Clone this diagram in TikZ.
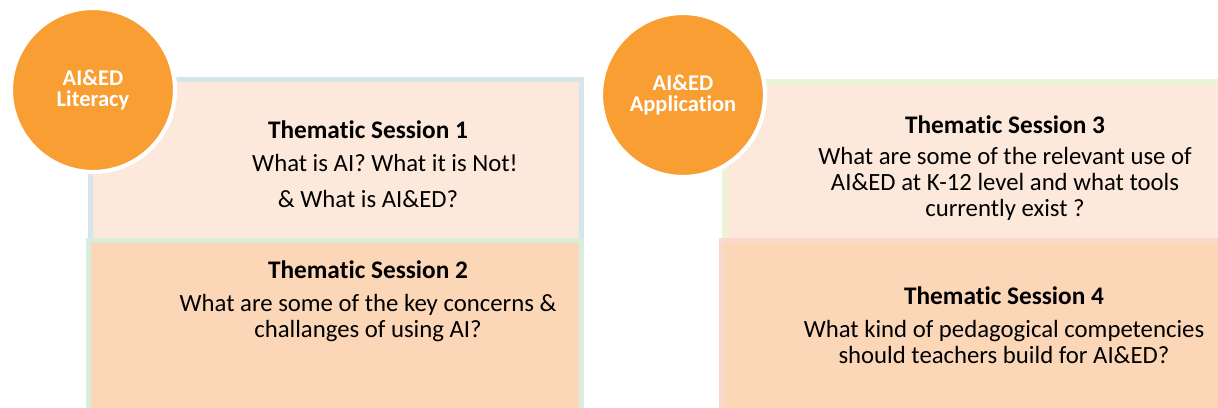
\documentclass[tikz,border=0pt]{standalone}
\usepackage{fontspec}
\setmainfont{Carlito}[Ligatures=NoCommon]
\usetikzlibrary{positioning,calc}
\definecolor{badgeorange}{HTML}{F99E33}
\definecolor{paleblue}{HTML}{D6E4EC}
\definecolor{palegreen}{HTML}{D7EEDC}
\definecolor{palelime}{HTML}{E9F5D7}
\definecolor{palepink}{HTML}{F8D9CC}
\definecolor{lightpeach}{HTML}{FDE9DB}
\definecolor{peach}{HTML}{FBD6B7}

\begin{document}
\begin{tikzpicture}[x=0.025cm,y=-0.025cm,
    panel/.style={rectangle, draw, line width=3.5pt, inner sep=0pt},
    badge/.style={circle, fill=badgeorange, draw=white, line width=3pt, minimum size=4.1cm,
        text=white, align=center, font=\fontsize{16}{15.5}\selectfont\bfseries},
    title/.style={font=\fontsize{18}{19}\selectfont\bfseries},
    body/.style={align=center, font=\fontsize{17.6}{18.6}\selectfont}]
    \useasboundingbox (0,0) rectangle (1218,408);

    % Left panel: Literacy
    \node[panel, draw=paleblue, fill=lightpeach, minimum width=12.28cm, minimum height=4.03cm] (box1) at (336,160) {};
    \node[panel, draw=palegreen, fill=peach, minimum width=12.33cm, minimum height=4.49cm] (box2) at (335,330) {};
    \node[badge] (lit) at (93,90) {AI\&ED\\Literacy};

    \node[title] (s1) at (368,130) {Thematic Session 1};
    \node[body] (q1a) at (385,163) {What is AI? What it is Not!};
    \node[body] (q1b) at (368,199) {\& What is AI\&ED?};

    \node[title] (s2) at (368,270) {Thematic Session 2};
    \node[body] (q2) at (368,318) {What are some of the key concerns \&\\challanges of using AI?};

    % Right panel: Application
    \node[panel, draw=palelime, fill=lightpeach, minimum width=12.5cm, minimum height=3.98cm] (box3) at (975,161) {};
    \node[panel, draw=palepink, fill=peach, minimum width=12.59cm, minimum height=4.49cm] (box4) at (973,330) {};
    \node[badge] (app) at (683,95) {AI\&ED\\Application};

    \node[title] (s3) at (1005,125) {Thematic Session 3};
    \node[body] (q3) at (1005,184) {What are some of the relevant use of\\AI\&ED at K-12 level and what tools\\currently exist ?};

    \node[title] (s4) at (1004,296) {Thematic Session 4};
    \node[body] (q4) at (1004,342) {What kind of pedagogical competencies\\should teachers build for AI\&ED?};
\end{tikzpicture}
\end{document}
